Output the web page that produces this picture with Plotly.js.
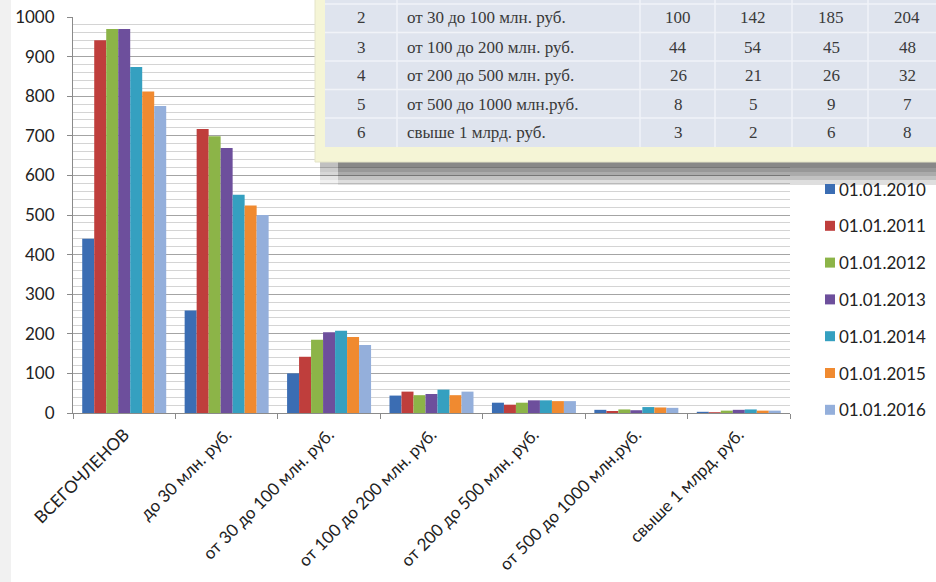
<!DOCTYPE html>
<html>
<head>
<meta charset="utf-8">
<script src="https://cdn.plot.ly/plotly-3.0.1.min.js"></script>
<style>html,body{margin:0;padding:0;background:#fff;}#chart{width:936px;height:582px;}</style>
</head>
<body>
<div id="chart"></div>
<script>
// ---- data ----
const categories = ["ВСЕГОЧЛЕНОВ", "до 30 млн. руб.", "от 30 до 100 млн. руб.", "от 100 до 200 млн. руб.",
  "от 200 до 500 млн. руб.", "от 500 до 1000 млн.руб.", "свыше 1 млрд. руб."];
const seriesNames = ["01.01.2010", "01.01.2011", "01.01.2012", "01.01.2013", "01.01.2014", "01.01.2015", "01.01.2016"];
const v2010 = [440, 259, 100, 44, 26, 8, 3];
const v2011 = [941, 717, 142, 54, 21, 5, 2];
const v2012 = [970, 699, 185, 45, 26, 9, 6];
const v2013 = [970, 669, 204, 48, 32, 7, 8];
const v2014 = [874, 551, 208, 59, 32, 15, 9];
const v2015 = [812, 524, 192, 45, 30, 14, 6];
const v2016 = [775, 500, 172, 54, 30, 13, 6];
const seriesValues = [v2010, v2011, v2012, v2013, v2014, v2015, v2016];
const seriesColors = ["#3b6db3", "#bf3e3c", "#8cb448", "#6d4f9c", "#35a0c0", "#f08a30", "#94afdb"];
// table overlay: visible row numbers (= index into categories) and the first four years shown
const tableRowIndex = [2, 3, 4, 5, 6];
const tableYearCount = 4;

// ---- pixel helpers for the overlay (plot area 73..790 x 17..413) ----
const PL = 73, PR = 790, PT = 17, PB = 413;
const px = p => (p - PL) / (PR - PL);
const py = p => (PB - p) / (PB - PT);

const traces = seriesNames.map((n, i) => ({
  type: "bar", name: n, x: categories, y: seriesValues[i],
  marker: {color: seriesColors[i], line: {width: 0}}, showlegend: false, hoverinfo: "x+y+name"
}));

const shapes = [];
const annotations = [];
// left page edge
shapes.push({type: "rect", xref: "paper", yref: "paper", x0: px(0), x1: px(11), y0: py(582), y1: py(0),
  fillcolor: "#f1f1f1", line: {width: 0}, layer: "below"});

// shadow under the table (stacked translucent bands -> gradient)
const shadowEnds = [168, 172, 176, 180, 185];
shadowEnds.forEach(e => shapes.push({type: "rect", xref: "paper", yref: "paper", x0: px(338), x1: px(940),
  y0: py(e), y1: py(160), fillcolor: "rgba(60,60,60,0.17)", line: {width: 0}, layer: "above"}));
shadowEnds.forEach(e => shapes.push({type: "rect", xref: "paper", yref: "paper", x0: px(320), x1: px(338),
  y0: py(e), y1: py(160), fillcolor: "rgba(60,60,60,0.07)", line: {width: 0}, layer: "above"}));
// yellow frame and table body
shapes.push({type: "rect", xref: "paper", yref: "paper", x0: px(315), x1: px(945), y0: py(162), y1: py(-5),
  fillcolor: "#f5f5d6", line: {color: "#e4e4c8", width: 1}, layer: "above"});
shapes.push({type: "rect", xref: "paper", yref: "paper", x0: px(325), x1: px(945), y0: py(147), y1: py(-5),
  fillcolor: "#dfe4ee", line: {width: 0}, layer: "above"});
const rowLines = [4, 32.5, 61, 89.5, 118];
rowLines.forEach(y => shapes.push({type: "line", xref: "paper", yref: "paper", x0: px(325), x1: px(945),
  y0: py(y), y1: py(y), line: {color: "#f1f3f8", width: 1.5}, layer: "above"}));
const colLines = [397, 640, 715, 792, 868];
colLines.forEach(x => shapes.push({type: "line", xref: "paper", yref: "paper", x0: px(x), x1: px(x),
  y0: py(147), y1: py(-5), line: {color: "#f1f3f8", width: 1.5}, layer: "above"}));

const rowCenters = [18, 47, 75.5, 104, 132.5];
const valueCenters = [678, 753, 831, 907];
const tFont = {family: "Liberation Serif, DejaVu Serif, serif", size: 17, color: "#3a3a3a"};
tableRowIndex.forEach((ri, r) => {
  const yc = py(rowCenters[r]);
  annotations.push({xref: "paper", yref: "paper", x: px(361), y: yc, text: String(ri), showarrow: false,
    xanchor: "center", yanchor: "middle", font: tFont});
  annotations.push({xref: "paper", yref: "paper", x: px(405), y: yc, text: categories[ri], showarrow: false,
    xanchor: "left", yanchor: "middle", font: tFont});
  for (let k = 0; k < tableYearCount; k++) {
    annotations.push({xref: "paper", yref: "paper", x: px(valueCenters[k]), y: yc, text: String(seriesValues[k][ri]),
      showarrow: false, xanchor: "center", yanchor: "middle", font: tFont});
  }
});

// legend (drawn manually to match spacing)
seriesNames.forEach((n, i) => {
  const yc = 189 + i * 36.8;
  shapes.push({type: "rect", xref: "paper", yref: "paper", x0: px(825), x1: px(835), y0: py(yc + 5), y1: py(yc - 5),
    fillcolor: seriesColors[i], line: {width: 0}, layer: "above"});
  annotations.push({xref: "paper", yref: "paper", x: px(837), y: py(yc), text: n, showarrow: false,
    xanchor: "left", yanchor: "middle", font: {family: "Lato, Open Sans, sans-serif", size: 17, color: "#222"}});
});

const layout = {
  width: 936, height: 582,
  margin: {l: PL, r: 936 - PR, t: PT, b: 582 - PB, pad: 0},
  paper_bgcolor: "#ffffff", plot_bgcolor: "#ffffff",
  barmode: "group", bargap: 0.18, bargroupgap: 0,
  showlegend: false,
  font: {family: "Lato, Open Sans, sans-serif", size: 17, color: "#222"},
  xaxis: {type: "category", tickson: "boundaries", ticks: "outside", ticklen: 5, tickcolor: "#8a8a8a",
    showline: true, linecolor: "#8a8a8a", linewidth: 1, tickangle: -45, showgrid: false, zeroline: false,
    ticklabelstandoff: 4,
    tickfont: {family: "Lato, Open Sans, sans-serif", size: 17, color: "#222"}, automargin: false},
  yaxis: {range: [0, 1000], dtick: 100, tick0: 0, ticks: "outside", ticklen: 5, tickcolor: "#8a8a8a",
    showline: true, linecolor: "#8a8a8a", linewidth: 1, zeroline: false,
    showgrid: true, gridcolor: "#a4a4a4", gridwidth: 1,
    minor: {dtick: 20, showgrid: true, gridcolor: "#d4d4d4", gridwidth: 1, ticks: ""},
    ticklabelstandoff: 9,
    tickfont: {family: "Lato, Open Sans, sans-serif", size: 17, color: "#222"}, automargin: false},
  shapes: shapes,
  annotations: annotations
};
Plotly.newPlot("chart", traces, layout, {displayModeBar: false, staticPlot: true});
</script>
</body>
</html>
